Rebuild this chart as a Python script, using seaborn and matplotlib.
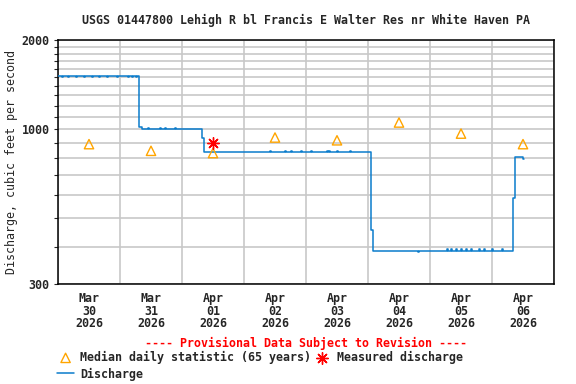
import pandas as pd
import matplotlib
matplotlib.use('Agg')
import matplotlib.pyplot as plt
import matplotlib.dates as mdates
from matplotlib.ticker import FixedLocator, NullFormatter, FixedFormatter
import seaborn as sns

# -- data --
start = pd.Timestamp('2026-03-30 00:00')

# discharge (cfs), hours after Mar 30 00:00
discharge_hours = [0, 1.5, 1.9, 4.0, 4.4, 7.0, 7.4, 10.0, 10.4, 13.0, 13.4, 16.0, 16.4,
                   19.0, 19.4, 23.0, 23.4, 27.0, 27.4, 28.5, 28.9, 30.0, 30.4,
                   31.3, 32.5, 34.8, 35.2, 39.5, 39.9, 41.4, 41.8, 45.3, 45.7,
                   55.6, 56.5, 57.8, 58.2,
                   82.0, 82.4, 88.0, 88.4, 90.0, 90.4, 94.0, 94.4, 98.0, 98.4,
                   104.0, 104.4, 105.0, 105.4, 108.0, 108.4, 113.0, 113.4,
                   121.1, 121.3, 122.0, 139.2, 139.6,
                   150.4, 150.8, 152.0, 152.4, 154.0, 154.4, 156.0, 156.4, 158.0, 158.4,
                   160.0, 160.4, 163.0, 163.4, 165.0, 165.4, 168.0, 168.4, 172.0, 172.4,
                   176.3, 176.8, 180.0, 180.5]
discharge_cfs = [1510, 1495, 1510, 1495, 1510, 1495, 1510, 1495, 1510, 1495, 1510, 1495, 1510,
                 1495, 1510, 1495, 1510, 1495, 1510, 1495, 1510, 1495, 1510,
                 1015, 1000, 1012, 1000, 1012, 1000, 1012, 1000, 1012, 1000,
                 930, 838, 834, 838,
                 843, 838, 843, 838, 843, 838, 843, 838, 843, 838,
                 843, 838, 843, 838, 843, 838, 843, 838,
                 687, 456, 388, 385, 388,
                 393, 388, 393, 388, 393, 388, 393, 388, 393, 388,
                 393, 388, 393, 388, 393, 388, 393, 388, 393, 388,
                 584, 803, 795, 795]

# median daily statistic (65 years), plotted at noon of each day
median_days = ['2026-03-30', '2026-03-31', '2026-04-01', '2026-04-02',
               '2026-04-03', '2026-04-04', '2026-04-05', '2026-04-06']
median_cfs = [890, 845, 830, 937, 917, 1053, 966, 890]

# field measurement
measured_time = ['2026-04-01 12:00']
measured_cfs = [895]

flow = pd.DataFrame({'time': start + pd.to_timedelta(discharge_hours, unit='h'),
                     'cfs': discharge_cfs})
med = pd.DataFrame({'time': pd.to_datetime(median_days) + pd.Timedelta(hours=12),
                    'cfs': median_cfs})
meas = pd.DataFrame({'time': pd.to_datetime(measured_time), 'cfs': measured_cfs})

# -- style --
sns.set_style('white')
plt.rcParams['font.family'] = ['DejaVu Sans Mono']
plt.rcParams['font.weight'] = 'bold'
plt.rcParams['font.size'] = 8.4
fs = 8.4

fig = plt.figure(figsize=(5.76, 3.84), dpi=100)
ax = fig.add_axes([58 / 576, 1 - 284 / 384, 496 / 576, 244 / 384])

sns.lineplot(data=flow, x='time', y='cfs', ax=ax, color='#0a7ccc', linewidth=1.1,
             drawstyle='steps-post', label='Discharge', zorder=3)
sns.scatterplot(data=med, x='time', y='cfs', ax=ax, marker='^', s=45,
                facecolors='none', edgecolor='#ffa500', linewidth=1.0,
                label='Median daily statistic (65 years)', zorder=4)
sns.scatterplot(data=meas, x='time', y='cfs', ax=ax, marker=(8, 2, 0), s=70,
                color='red', linewidth=1.0, label='Measured discharge', zorder=5)
if ax.get_legend() is not None:
    ax.get_legend().remove()

# y axis: log scale
ax.set_yscale('log')
ax.set_ylim(300, 2000)
ax.yaxis.set_major_locator(FixedLocator([300, 1000, 2000]))
ax.yaxis.set_major_formatter(FixedFormatter(['300', '1000', '2000']))
ax.yaxis.set_minor_locator(FixedLocator([v for v in range(400, 2000, 100) if v != 1000]))
ax.yaxis.set_minor_formatter(NullFormatter())

# x axis: gridlines at midnight, labels at noon
ax.set_xlim(start, pd.Timestamp('2026-04-07 00:00'))
ax.xaxis.set_major_locator(mdates.DayLocator())
ax.xaxis.set_major_formatter(NullFormatter())
ax.xaxis.set_minor_locator(mdates.HourLocator(byhour=[12]))
ax.xaxis.set_minor_formatter(mdates.DateFormatter('%b\n%d\n%Y'))
for lab in ax.get_xticklabels(minor=True):
    lab.set_linespacing(0.95)
ax.tick_params(axis='x', which='both', length=0, pad=6, labelsize=fs)
ax.tick_params(axis='y', which='both', length=3, width=0.8, pad=3, labelsize=fs, left=True)

ax.grid(True, which='major', axis='x', color='#c8c8c8', linewidth=1.2)
ax.grid(True, which='both', axis='y', color='#c8c8c8', linewidth=1.2)
ax.set_axisbelow(True)
for sp in ax.spines.values():
    sp.set_color('black')
    sp.set_linewidth(1.1)

ax.set_xlabel('')
ax.set_ylabel('Discharge, cubic feet per second', fontsize=fs)
ax.yaxis.set_label_coords(-40 / 496, 0.5)

fig.text(306 / 576, 1 - 20 / 384,
         'USGS 01447800 Lehigh R bl Francis E Walter Res nr White Haven PA',
         ha='center', va='center', fontsize=fs)
fig.text(306 / 576, 1 - 343 / 384, '---- Provisional Data Subject to Revision ----',
         ha='center', va='center', color='red', fontsize=fs)

h, l = ax.get_legend_handles_labels()
order = [l.index('Median daily statistic (65 years)'), l.index('Discharge'),
         l.index('Measured discharge')]
fig.legend([h[i] for i in order], [l[i] for i in order], ncol=2,
           loc='upper left', bbox_to_anchor=(51 / 576, 1 - 345 / 384),
           frameon=False, borderpad=0, handlelength=1.5, handletextpad=0.5,
           columnspacing=0.2, labelspacing=0.3, fontsize=fs)

fig.savefig('out.png', dpi=100)
